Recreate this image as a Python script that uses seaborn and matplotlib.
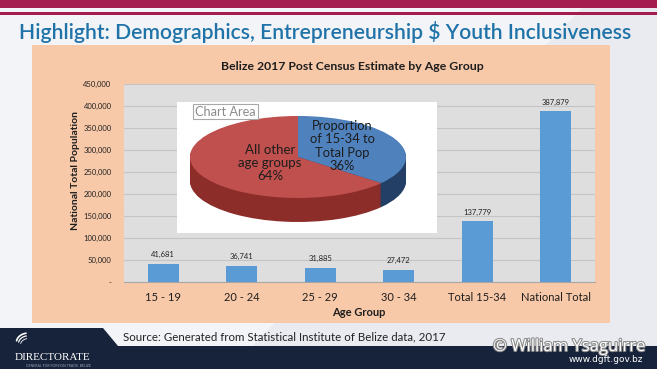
import matplotlib
matplotlib.use("Agg")
import matplotlib.pyplot as plt
import matplotlib.patches as mpatches
import matplotlib.patheffects as pe
import matplotlib.ticker as mticker
import numpy as np
import pandas as pd
import seaborn as sns

# Data
age_groups = ["15 - 19", "20 - 24", "25 - 29", "30 - 34", "Total 15-34", "National Total"]
population = [41681, 36741, 31885, 27472, 137779, 387879]
y_ticks = list(range(0, 450001, 50000))
pie_shares = [36, 64]
pie_texts = ["Proportion\nof 15-34 to\nTotal Pop\n36%", "All other\nage groups\n64%"]

W, H = 657, 369


def box(x0, y0, x1, y1):
    # pixel box (top-left origin) -> figure fraction rect
    return [x0 / W, 1 - y1 / H, (x1 - x0) / W, (y1 - y0) / H]


def fx(x):
    return x / W


def fy(y):
    return 1 - y / H


sns.set_style("white")
plt.rcParams["font.family"] = ["Lato", "DejaVu Sans"]

fig = plt.figure(figsize=(W / 100, H / 100), dpi=100, facecolor="#e9ebf0")

# Slide background pieces
fig.add_artist(mpatches.Polygon(
    [(fx(0), fy(0)), (fx(590), fy(0)), (fx(230), fy(369)), (fx(0), fy(369))],
    closed=True, transform=fig.transFigure, fc="#f3f4f7", ec="none", zorder=-3))
fig.add_artist(mpatches.Rectangle((0, fy(8)), 1, 8 / H, transform=fig.transFigure,
                                  fc="#a51c4e", ec="none", zorder=-2))
fig.add_artist(mpatches.Rectangle((0, fy(14.5)), 1, 2 / H, transform=fig.transFigure,
                                  fc="#a51c4e", ec="none", zorder=-2))
fig.add_artist(mpatches.Rectangle((fx(32), fy(323)), (610 - 32) / W, (323 - 45) / H,
                                  transform=fig.transFigure, fc="#f8c9a9", ec="none", zorder=-2))
fig.add_artist(mpatches.Polygon(
    [(fx(0), fy(328)), (fx(103), fy(328)), (fx(118), fy(346)), (fx(657), fy(346)),
     (fx(657), fy(369)), (fx(0), fy(369))],
    closed=True, transform=fig.transFigure, fc="#17233a", ec="none", zorder=-2))

# Slide title
fig.text(fx(19), fy(39), "Highlight: Demographics, Entrepreneurship $ Youth Inclusiveness",
         fontsize=15.25, weight="semibold", color="#1f73a9", va="baseline", ha="left")

# Chart title
fig.text(fx(352), fy(66), "Belize 2017 Post Census Estimate by Age Group",
         fontsize=8.8, weight="bold", color="#1e1e1e", ha="center", va="center")

# Bar chart
ax = fig.add_axes(box(124, 84, 595, 282))
df = pd.DataFrame({"age_group": age_groups, "population": population})
sns.barplot(data=df, x="age_group", y="population", color="#5b9bd5",
            width=0.39, saturation=1, linewidth=0, ax=ax)
ax.set_facecolor("#dedede")
ax.set_xlim(-0.5, len(age_groups) - 0.5)
ax.set_ylim(0, 450000)
ax.set_yticks(y_ticks)
ax.yaxis.set_major_formatter(mticker.FuncFormatter(lambda v, p: "-" if v == 0 else f"{v:,.0f}"))
ax.grid(axis="y", color="#c4c4c4", linewidth=0.8)
ax.set_axisbelow(True)
for side in ["top", "right", "left"]:
    ax.spines[side].set_visible(False)
ax.spines["bottom"].set_color("#a6a6a6")
ax.tick_params(axis="y", length=0, labelsize=5.5, pad=9, labelcolor="#222222")
ax.tick_params(axis="x", length=0, labelsize=8, pad=7, labelcolor="#1e1e1e")
ax.set_xticks(np.arange(-0.5, len(age_groups), 1), minor=True)
ax.tick_params(axis="x", which="minor", length=3, color="#a6a6a6")
ax.set_xlabel("")
ax.set_ylabel("")
ax.bar_label(ax.containers[0], labels=[f"{v:,}" for v in population],
             fontsize=5.5, padding=4, color="#222222")

fig.text(fx(359), fy(312), "Age Group", fontsize=8, weight="bold", color="#1e1e1e",
         ha="center", va="center")
fig.text(fx(75), fy(170), "National Total Population", fontsize=7.5, weight="bold",
         color="#1e1e1e", rotation=90, ha="center", va="center")

# Pasted pie chart (layered to fake the 3-D depth)
pax = fig.add_axes(box(177, 102, 437, 233))
depth = 0.585
flat = dict(linewidth=0, edgecolor="none")
for d in np.linspace(depth, 0, 30)[:-1]:
    pax.pie(pie_shares, colors=["#233f66", "#8c2d2a"], startangle=90,
            counterclock=False, center=(0, -d), radius=1, wedgeprops=flat)
pax.pie(pie_shares, colors=["#4f81bd", "#c0504d"], startangle=90, counterclock=False,
        wedgeprops=flat)
pax.set_aspect("auto")
pax.set_xlim(-1.12, 1.287)
pax.set_ylim(-1.854, 1.341)
pax.set_frame_on(True)
pax.set_facecolor("white")
for s in pax.spines.values():
    s.set_visible(False)
pax.text(0.407, 0.268, pie_texts[0], ha="center", va="center", fontsize=9.3,
         color="#1d1d1d", linespacing=1.12)
pax.text(-0.259, -0.146, pie_texts[1], ha="center", va="center", fontsize=9.5,
         color="#1d1d1d", linespacing=1.12)
fig.text(fx(195), fy(111.5), "Chart Area", fontsize=9.2, color="#8c8c8c", va="center",
         bbox=dict(boxstyle="square,pad=0.15", fc="white", ec="#a8a8a8", lw=0.8))

# Footer
fig.text(fx(123), fy(337), "Source: Generated from Statistical Institute of Belize data, 2017",
         fontsize=8.3, color="#222222", va="center")
fig.text(fx(645), fy(347), "\u00a9 William Ysaguirre", fontsize=12, color="white",
         ha="right", va="center", family="Open Sans",
         path_effects=[pe.withStroke(linewidth=1.5, foreground="#8a8a8a")])
fig.text(fx(643), fy(360), "www.dgft.gov.bz", fontsize=6.5, color="white",
         ha="right", va="center", family="DejaVu Sans")
fig.text(fx(15), fy(357), "DIRECTORATE", fontsize=8, color="white", va="center",
         family="Liberation Serif")
fig.text(fx(26), fy(365), "GENERAL FOR FOREIGN TRADE, BELIZE", fontsize=2.5,
         color="#9aa3b5", va="center")
lax = fig.add_axes(box(14, 331, 34, 351))
lax.set_axis_off()
t = np.linspace(0.15, 1.35, 50)
for k in range(3):
    r = 1 - 0.18 * k
    lax.plot(r * np.cos(t + 1.6), r * np.sin(t + 1.6) * 0.9 - 0.1 * k, color="white",
             lw=1.2 - 0.3 * k)
lax.set_xlim(-1.2, 0.5)
lax.set_ylim(-0.8, 1.1)

fig.savefig("out.png", dpi=100, facecolor=fig.get_facecolor())
